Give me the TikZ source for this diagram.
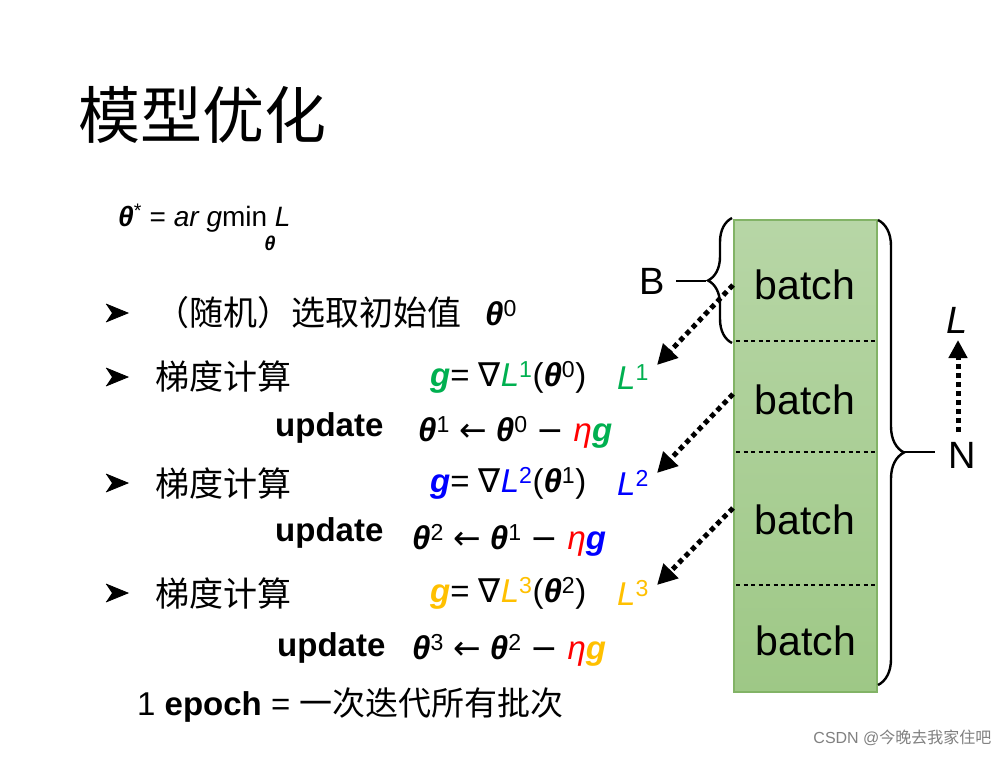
\documentclass[tikz,border=0pt]{standalone}
\usepackage{fontspec}
\setmainfont{Liberation Sans}
\newfontfamily\cjk{Noto Sans CJK SC}
\newfontfamily\dvs{DejaVu Sans}
\usetikzlibrary{arrows.meta,decorations.pathreplacing}
\definecolor{cg}{HTML}{00B050}
\definecolor{cb}{HTML}{0000FF}
\definecolor{co}{HTML}{FFC000}
\definecolor{cr}{HTML}{FF0000}
\newcommand\tht{\textbf{\textit{θ}}}
\newcommand\gb{\textbf{\textit{g}}}
\newcommand\sps[1]{\textsuperscript{#1}}
\newcommand\nab{{\dvs ∇}}
\newcommand\lar{{\dvs ←}}
\newcommand\mns{{\dvs −}}
\begin{document}
\begin{tikzpicture}[x=1pt,y=-1pt,
  txt/.style={anchor=west,inner sep=0pt,font=\fontsize{33}{36}\selectfont},
  cn/.style={anchor=west,inner sep=0pt,font=\fontsize{34}{36}\selectfont\cjk},
  bullet/.style={fill=black},
  batchtxt/.style={font=\fontsize{41}{44}\selectfont},
  dotarrow/.style={line width=5pt,dash pattern=on 5pt off 4pt,-{Triangle[length=20pt,width=20pt]}},
  brc/.style={line width=2.4pt,decorate}]
\useasboundingbox (0,0) rectangle (1008,756);
\fill[white] (0,0) rectangle (1008,756);
\node[anchor=west,inner sep=0pt,font=\fontsize{62}{64}\selectfont\cjk] (title) at (78,115) {模型优化};
\node[txt,font=\fontsize{28}{30}\selectfont] (f0) at (118,218) {\tht\sps{*} = \textit{ar g}min \textit{L}};
\node[inner sep=0pt,font=\fontsize{20}{22}\selectfont] (f0s) at (270,243) {\tht};
% bullets
\foreach \y in {313,377,483,593}{
  \fill[bullet] (106,\y-9) -- (128,\y) -- (106,\y+9) -- (112,\y) -- cycle;
  \draw[line width=0.8pt] (106,\y-9) -- (128,\y) -- (106,\y+9);}
\node[cn] (t1) at (155,313) {（随机）选取初始值};
\node[txt] (t1m) at (485,313) {\tht\sps{0}};
\node[cn] (t2) at (155,377) {梯度计算};
\node[cn] (t3) at (155,483) {梯度计算};
\node[cn] (t4) at (155,593) {梯度计算};
\node[txt] (g1) at (430,377) {\color{cg}\gb\color{black} = \nab\color{cg}\textit{L}\sps{1}\color{black}(\tht\sps{0})};
\node[txt] (g2) at (430,483) {\color{cb}\gb\color{black} = \nab\color{cb}\textit{L}\sps{2}\color{black}(\tht\sps{1})};
\node[txt] (g3) at (430,593) {\color{co}\gb\color{black} = \nab\color{co}\textit{L}\sps{3}\color{black}(\tht\sps{2})};
\node[txt] (L1) at (617,377) {\color{cg}\textit{L}\sps{1}};
\node[txt] (L2) at (617,483) {\color{cb}\textit{L}\sps{2}};
\node[txt] (L3) at (617,593) {\color{co}\textit{L}\sps{3}};
\node[txt] (u1) at (275,428) {\textbf{update}};
\node[txt] (u2) at (275,533) {\textbf{update}};
\node[txt] (u3) at (277,648) {\textbf{update}};
\node[txt] (e1) at (418,432) {\tht\sps{1} \lar{} \tht\sps{0} \mns{} \color{cr}\textit{η}\color{cg}\gb};
\node[txt] (e2) at (412,540) {\tht\sps{2} \lar{} \tht\sps{1} \mns{} \color{cr}\textit{η}\color{cb}\gb};
\node[txt] (e3) at (412,650) {\tht\sps{3} \lar{} \tht\sps{2} \mns{} \color{cr}\textit{η}\color{co}\gb};
\node[txt] (ep) at (137,705) {1 \textbf{epoch} = \cjk 一次迭代所有批次};
% box
\shade[top color={rgb,255:red,183;green,214;blue,166},bottom color={rgb,255:red,158;green,200;blue,134}] (734,220) rectangle (877,692);
\draw[line width=1.5pt,draw={rgb,255:red,130;green,179;blue,102}] (734,220) rectangle (877,692);
\foreach \y in {341,452,585}{\draw[line width=2.8pt,dash pattern=on 4pt off 3.5pt] (736,\y) -- (875,\y);}
\node[batchtxt] (b1) at (805,285) {batch};
\node[batchtxt] (b2) at (805,400) {batch};
\node[batchtxt] (b3) at (805,520) {batch};
\node[batchtxt] (b4) at (806,641) {batch};
\coordinate (s1) at (733,285); \coordinate (s2) at (733,394); \coordinate (s3) at (733,508);
\coordinate (d1) at (657,365); \coordinate (d2) at (657,473); \coordinate (d3) at (657,585);
\draw[dotarrow] (s1) -- (d1);
\draw[dotarrow] (s2) -- (d2);
\draw[dotarrow] (s3) -- (d3);
% braces
\draw[brc,decoration={brace,amplitude=24pt}] (732,343) -- (732,218);
\draw[line width=2.4pt] (676,281) -- (706,281);
\node[font=\fontsize{38}{40}\selectfont] (B) at (652,281) {B};
\draw[brc,decoration={brace,amplitude=26pt}] (878,220) -- (878,685);
\draw[line width=2.4pt] (904,452) -- (935,452);
\node[font=\fontsize{38}{40}\selectfont] (N) at (962,455) {N};
\node[font=\fontsize{38}{40}\selectfont\itshape] (LL) at (957,320) {L};
\coordinate (nb) at (958,432); \coordinate (nt) at (958,340);
\draw[line width=5pt,dash pattern=on 5pt off 4pt,-{Triangle[length=18pt,width=18pt]}] (nb) -- (nt);
\node[anchor=east,font=\fontsize{16}{18}\selectfont,text=gray] (wm) at (995,738) {CSDN @\cjk 今晚去我家住吧};
\end{tikzpicture}
\end{document}
